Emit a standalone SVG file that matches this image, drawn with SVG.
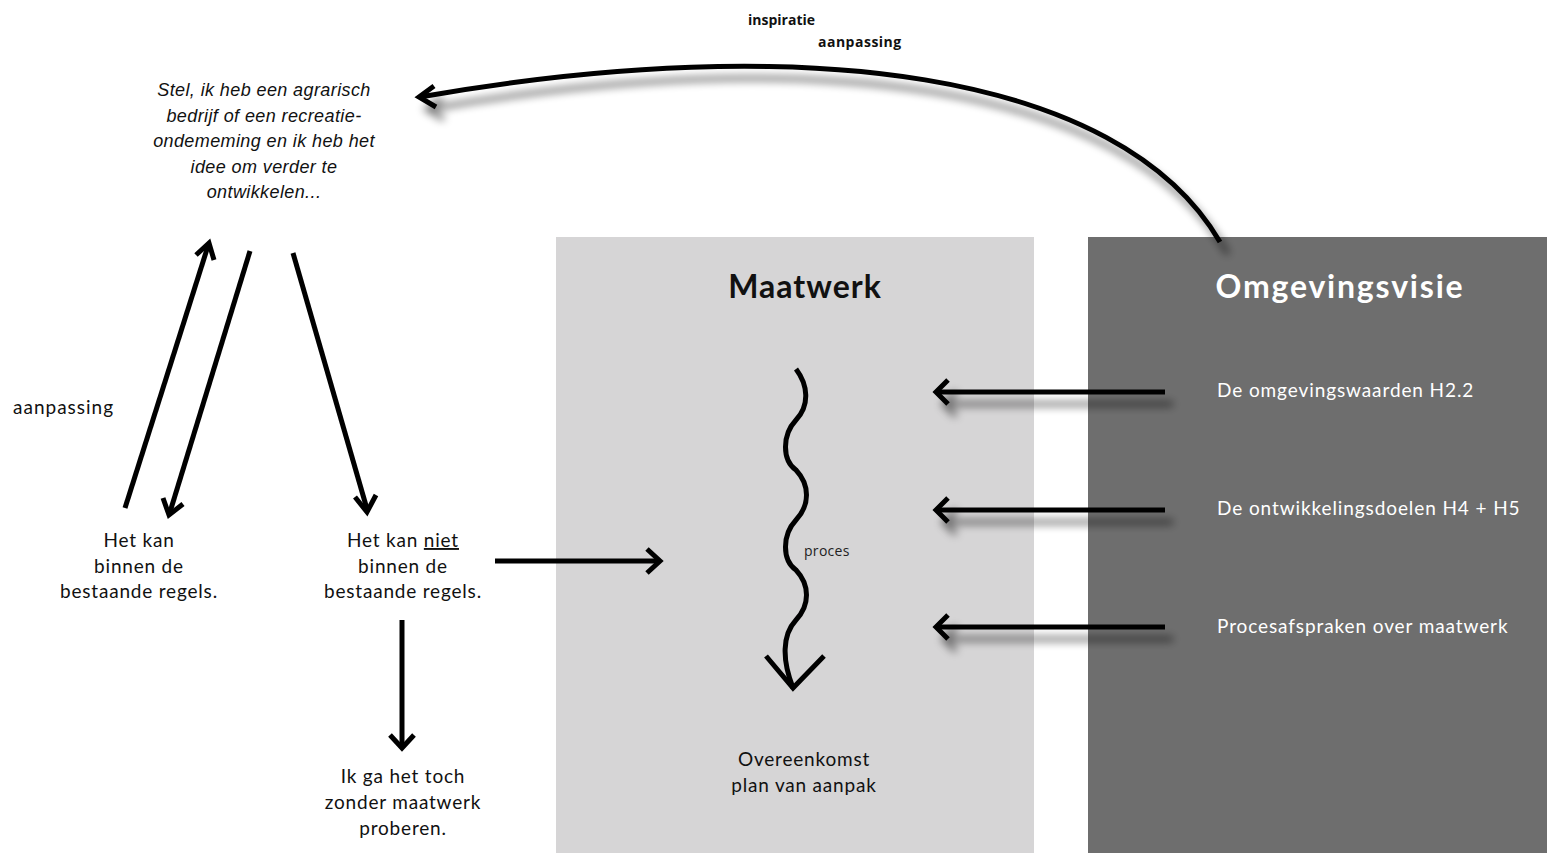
<svg xmlns="http://www.w3.org/2000/svg" width="1547" height="853" viewBox="0 0 1547 853">
<style>
.t{font-family:Lato,"Open Sans","Liberation Sans",sans-serif;font-size:19px;letter-spacing:0.8px;fill:#111;text-anchor:middle}
.w{font-family:Lato,"Open Sans","Liberation Sans",sans-serif;font-size:19px;letter-spacing:0.9px;fill:#fff}
.it{font-family:"Liberation Sans",sans-serif;font-style:italic;font-size:18px;letter-spacing:0.4px;fill:#111;text-anchor:middle}
.h{font-family:Lato,"Open Sans","Liberation Sans",sans-serif;font-size:32px;font-weight:bold;text-anchor:middle}
.ln{fill:none;stroke:#000;stroke-width:5;stroke-linecap:butt}
.hd{fill:none;stroke:#000;stroke-width:5;stroke-linejoin:miter}
</style>
<defs>
<filter id="sh" x="-20%" y="-50%" width="140%" height="250%">
<feGaussianBlur in="SourceAlpha" stdDeviation="4"/>
<feOffset dx="8" dy="12" result="b"/>
<feComponentTransfer><feFuncA type="linear" slope="0.55"/></feComponentTransfer>
<feMerge><feMergeNode/><feMergeNode in="SourceGraphic"/></feMerge>
</filter>
</defs>
<rect width="1547" height="853" fill="#fff"/>
<g id="maatwerk">
<rect x="556" y="237" width="478" height="616" fill="#d6d5d6"/>
<text class="h" x="805" y="298" fill="#111" letter-spacing="1">Maatwerk</text>
</g>
<g id="omgevingsvisie">
<rect x="1088" y="237" width="459" height="616" fill="#6e6e6e"/>
<text class="h" x="1340" y="298" fill="#fff" font-weight="600" letter-spacing="1.8">Omgevingsvisie</text>
<text class="w" x="1217" y="397">De omgevingswaarden H2.2</text>
<text class="w" x="1217" y="515">De ontwikkelingsdoelen H4 + H5</text>
<text class="w" x="1217" y="633">Procesafspraken over maatwerk</text>
</g>
<g id="vraag">
<text class="it" x="264" y="96">Stel, ik heb een agrarisch</text>
<text class="it" x="264" y="122">bedrijf of een recreatie-</text>
<text class="it" x="264" y="147">ondememing en ik heb het</text>
<text class="it" x="264" y="173">idee om verder te</text>
<text class="it" x="264" y="198">ontwikkelen...</text>
</g>
<g id="kan">
<text class="t" x="139" y="547">Het kan</text>
<text class="t" x="139" y="573">binnen de</text>
<text class="t" x="139" y="598">bestaande regels.</text>
</g>
<g id="kanniet">
<text class="t" x="403" y="547">Het kan <tspan text-decoration="underline">niet</tspan></text>
<text class="t" x="403" y="573">binnen de</text>
<text class="t" x="403" y="598">bestaande regels.</text>
</g>
<g id="zonder">
<text class="t" x="403" y="783">Ik ga het toch</text>
<text class="t" x="403" y="809">zonder maatwerk</text>
<text class="t" x="403" y="835">proberen.</text>
</g>
<g id="overeenkomst">
<text class="t" x="804" y="766">Overeenkomst</text>
<text class="t" x="804" y="792">plan van aanpak</text>
</g>
<g id="labels">
<text x="748" y="25" font-family="'Open Sans','Liberation Sans',sans-serif" font-size="14" font-weight="bold" fill="#111">inspiratie</text>
<text x="818" y="47" font-family="'Open Sans','Liberation Sans',sans-serif" font-size="14" font-weight="bold" letter-spacing="0.5" fill="#111">aanpassing</text>
<text x="13" y="414" font-family="Lato,'Open Sans','Liberation Sans',sans-serif" font-size="19" letter-spacing="1" fill="#111">aanpassing</text>
<text x="804" y="556" font-family="'Open Sans','Liberation Sans',sans-serif" font-size="14" letter-spacing="0.3" fill="#222">proces</text>
</g>
<g id="connectors">
<g filter="url(#sh)">
<path class="ln" d="M1220,242 C1120,70 800,30 420,97"/>
<path class="hd" d="M434,86 L419,97 L436,107"/>
</g>
<g filter="url(#sh)">
<line class="ln" x1="1165" y1="392" x2="937" y2="392"/>
<path class="hd" d="M948,380 L936,392 L948,404"/>
<line class="ln" x1="1165" y1="510" x2="937" y2="510"/>
<path class="hd" d="M948,498 L936,510 L948,522"/>
<line class="ln" x1="1165" y1="627" x2="937" y2="627"/>
<path class="hd" d="M948,615 L936,627 L948,639"/>
</g>
<line class="ln" x1="125" y1="508" x2="208" y2="246"/>
<path class="hd" d="M196,255 L209,243 L214,260"/>
<line class="ln" x1="250" y1="251" x2="170" y2="512"/>
<path class="hd" d="M163,498 L169,515 L183,504"/>
<line class="ln" x1="293" y1="253" x2="367" y2="509"/>
<path class="hd" d="M355,497 L367,512 L376,495"/>
<line class="ln" x1="495" y1="561" x2="659" y2="561"/>
<path class="hd" d="M647,549 L660,561 L647,573"/>
<line class="ln" x1="402" y1="620" x2="402" y2="746"/>
<path class="hd" d="M390,735 L402,748 L414,735"/>
<path class="ln" d="M796,369 C808,385 810,405 796,420 C782,435 782,460 796,470 C810,485 810,505 796,520 C782,535 782,560 796,570 C810,585 810,605 796,620 C782,635 782,660 793,688"/>
<path class="hd" d="M766,656 L793,688 L824,656" stroke-width="6"/>
</g>
</svg>
